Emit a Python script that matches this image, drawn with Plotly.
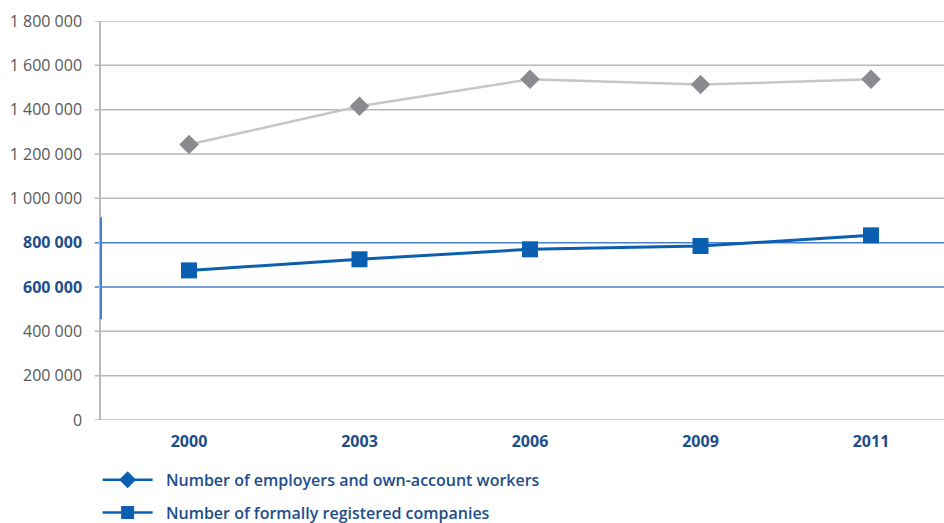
import plotly.graph_objects as go

# Survey years shown on the horizontal axis
years = ["2000", "2003", "2006", "2009", "2011"]

# Series values
employers_own_account = [1243000, 1415000, 1537000, 1513000, 1537000]
registered_companies = [675000, 725000, 770000, 785000, 833000]

# Legend labels
name_employers = "Number of employers and own-account workers"
name_companies = "Number of formally registered companies"

# Y-axis ticks
y_tickvals = [0, 200000, 400000, 600000, 800000, 1000000, 1200000, 1400000, 1600000, 1800000]
y_highlight = [600000, 800000]

GRID = "#b9b9b9"
BLUE = "#0b5fb0"
BLUE_GRID = "#4a7fcb"
DARK_BLUE = "#1d4e8a"
FONT = "Open Sans"
PAD = "\u00a0\u00a0"


def fmt(v):
    return f"{v:,}".replace(",", " ")


y_ticktext = []
for v in y_tickvals:
    if v in y_highlight:
        y_ticktext.append(f"<span style='color:{DARK_BLUE};font-weight:700'>{fmt(v)}</span>")
    else:
        y_ticktext.append(fmt(v))

fig = go.Figure()

# Data traces (legend entries are drawn separately below)
fig.add_trace(go.Scatter(
    x=years, y=employers_own_account, mode="lines+markers",
    line=dict(color="#c6c6c6", width=2.5),
    marker=dict(symbol="diamond", size=15, color="#8b8b8f"),
    showlegend=False,
))
fig.add_trace(go.Scatter(
    x=years, y=registered_companies, mode="lines+markers",
    line=dict(color=BLUE, width=3),
    marker=dict(symbol="square", size=16, color=BLUE),
    showlegend=False,
))

# Legend entries, both in the blue house style
fig.add_trace(go.Scatter(
    x=[None], y=[None], mode="lines+markers", name=PAD + name_employers,
    line=dict(color=BLUE, width=2.5),
    marker=dict(symbol="diamond", size=13, color=BLUE),
    legendgroup="a",
))
fig.add_trace(go.Scatter(
    x=[None], y=[None], mode="lines+markers", name=PAD + name_companies,
    line=dict(color=BLUE, width=2.5),
    marker=dict(symbol="square", size=13, color=BLUE),
    legendgroup="b",
))

# Horizontal gridlines drawn as shapes so that two of them can be highlighted
for v in y_tickvals:
    fig.add_shape(type="line", xref="paper", yref="y",
                  x0=-0.0075, x1=1, y0=v, y1=v,
                  line=dict(color=BLUE_GRID if v in y_highlight else GRID, width=1.5),
                  layer="below")
fig.add_shape(type="line", xref="paper", yref="y",
              x0=0, x1=0, y0=455000, y1=915000,
              line=dict(color=BLUE_GRID, width=2), layer="above")

fig.update_layout(
    width=944, height=523,
    margin=dict(l=101, r=0, t=21, b=103, autoexpand=False),
    paper_bgcolor="white", plot_bgcolor="white",
    font=dict(family=FONT, size=16, color="#585858"),
    showlegend=True,
    legend=dict(
        orientation="v", x=-0.004, xanchor="left",
        yref="container", y=0.115, yanchor="top",
        font=dict(family=FONT, size=16, color=DARK_BLUE, weight=600),
        itemwidth=50, tracegroupgap=9, traceorder="grouped",
        bgcolor="rgba(0,0,0,0)",
    ),
    xaxis=dict(
        type="category", categoryorder="array", categoryarray=years,
        range=[-0.516, 4.428],
        showgrid=False, zeroline=False, showline=False, ticks="",
        tickfont=dict(family=FONT, size=16, color=DARK_BLUE, weight="bold"),
        ticklabelstandoff=10,
    ),
    yaxis=dict(
        range=[0, 1800000],
        tickvals=y_tickvals, ticktext=y_ticktext,
        showgrid=False, zeroline=False,
        showline=True, linecolor=GRID, linewidth=1.5,
        ticks="", 
        tickfont=dict(family=FONT, size=16, color="#585858"),
        ticklabelstandoff=14,
    ),
)

fig.write_html("out.html")
